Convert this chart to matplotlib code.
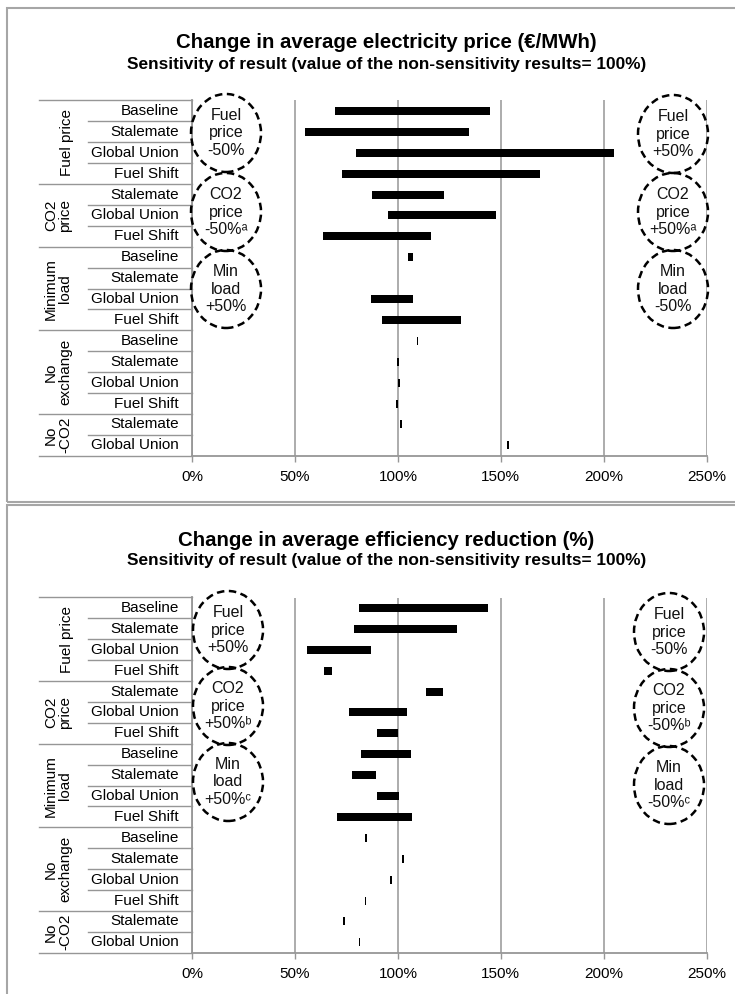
import numpy as np
import matplotlib
matplotlib.use('Agg')
import matplotlib.pyplot as plt
from matplotlib.patches import Ellipse, Rectangle
from matplotlib.transforms import blended_transform_factory

plt.rcParams['font.family'] = ['Liberation Sans', 'DejaVu Sans']

# row labels (top to bottom)
scenarios = ['Baseline', 'Stalemate', 'Global Union', 'Fuel Shift',
             'Stalemate', 'Global Union', 'Fuel Shift',
             'Baseline', 'Stalemate', 'Global Union', 'Fuel Shift',
             'Baseline', 'Stalemate', 'Global Union', 'Fuel Shift',
             'Stalemate', 'Global Union']
groups = ['Fuel price', 'CO2\nprice', 'Minimum\nload', 'No\nexchange', 'No\n-CO2']
group_sizes = [4, 3, 4, 4, 2]
ticks = [0, 50, 100, 150, 200, 250]

# electricity price: low / high end of each bar (%)
price_low = [69.7, 54.8, 79.9, 72.8, 87.6, 95.4, 63.5, 104.9, None, 86.9, 92.5,
             109.2, 99.5, 100.2, 99.2, 100.9, 153.2]
price_high = [144.8, 134.5, 205.1, 168.9, 122.6, 147.9, 116.0, 107.2, None, 107.2, 130.7,
              110.0, 100.5, 101.2, 100.2, 101.9, 154.2]

# efficiency reduction
eff_low = [81.1, 78.9, 55.8, 64.0, 113.5, 76.3, 90.0, 82.0, 77.7, 89.9, 70.4,
           84.2, 101.9, 96.4, 83.8, 73.5, 80.9]
eff_high = [144.0, 128.7, 87.1, 67.8, 122.1, 104.2, 100.0, 106.4, 89.2, 100.7, 106.9,
            85.1, 102.8, 97.3, 84.7, 74.4, 81.8]

price_left = ['Fuel\nprice\n-50%', 'CO2\nprice\n-50%ᵃ', 'Min\nload\n+50%']
price_right = ['Fuel\nprice\n+50%', 'CO2\nprice\n+50%ᵃ', 'Min\nload\n-50%']
eff_left = ['Fuel\nprice\n+50%', 'CO2\nprice\n+50%ᵇ', 'Min\nload\n+50%ᶜ']
eff_right = ['Fuel\nprice\n-50%', 'CO2\nprice\n-50%ᵇ', 'Min\nload\n-50%ᶜ']

W, H = 735, 994
GRAY = '#969696'
fig = plt.figure(figsize=(W / 100, H / 100), dpi=100)


def fx(px):
    return px / W


def fy(py):
    return 1 - py / H


def circle(cx, cy, txt):
    fig.add_artist(Ellipse((fx(cx), fy(cy)), 70 / W, 78 / H, transform=fig.transFigure,
                           fill=False, ec='black', lw=1.8, ls=(0, (3, 1.8))))
    fig.text(fx(cx), fy(cy), txt, ha='center', va='center', fontsize=11.5,
             linespacing=1.2, color='#111111')


def panel(top, title, subtitle, lows, highs, left_txt, right_txt, left_y, right_y, lx, rx):
    fig.add_artist(Rectangle((fx(7), fy(top + 494)), fx(760) - fx(7), 494 / H,
                             transform=fig.transFigure, fill=False, ec='#a6a6a6', lw=1.5))
    fig.text(fx(386.5), fy(top + 35), title, ha='center', va='center',
             fontsize=14.7, weight='bold')
    fig.text(fx(386.5), fy(top + 56), subtitle, ha='center', va='center',
             fontsize=12.4, weight='bold')

    r0, r1 = top + 92.5, top + 447.8
    x0, x1 = 192, 706.7
    ax = fig.add_axes([fx(x0), fy(r1), fx(x1) - fx(x0), (r1 - r0) / H])
    ax.set_xlim(0, 250)
    ax.set_ylim(16.5, -0.5)
    ax.set_xticks(ticks)
    ax.set_xticklabels([f'{t}%' for t in ticks], fontsize=11)
    ax.set_yticks([])
    ax.xaxis.grid(True, color=GRAY, lw=1.1)
    ax.set_axisbelow(True)
    for s in ['top', 'right']:
        ax.spines[s].set_visible(False)
    for s in ['left', 'bottom']:
        ax.spines[s].set_color(GRAY)
        ax.spines[s].set_linewidth(1.3)
    ax.tick_params(axis='x', length=4, width=1, color=GRAY, pad=6)

    for i, (lo, hi) in enumerate(zip(lows, highs)):
        if lo is None:
            continue
        ax.barh(i, hi - lo, left=lo, height=0.38, color='black')

    # label table on the left
    tr = blended_transform_factory(ax.transAxes, ax.transData)

    def xa(px):
        return (px - x0) / (x1 - x0)

    bounds = list(np.cumsum([0] + group_sizes) - 0.5)
    for b in np.arange(-0.5, 17, 1.0):
        start = 39 if b in bounds else 88
        ax.plot([xa(start), 0], [b, b], transform=tr, clip_on=False, color=GRAY, lw=1)
    for i, name in enumerate(scenarios):
        ax.text(xa(179), i, name, transform=tr, ha='right', va='center', fontsize=11)
    for g, name in enumerate(groups):
        mid = (bounds[g] + bounds[g + 1]) / 2
        gx = 67 if '\n' not in name else 58
        ax.text(xa(gx), mid, name, transform=tr, rotation=90, ha='center', va='center',
                multialignment='center', fontsize=11, linespacing=1.0)

    for t, cy in zip(left_txt, left_y):
        circle(lx, cy, t)
    for t, cy in zip(right_txt, right_y):
        circle(rx, cy, t)


sub = 'Sensitivity of result (value of the non-sensitivity results= 100%)'
panel(8, 'Change in average electricity price (€/MWh)', sub, price_low, price_high,
      price_left, price_right, [133, 212, 289], [134, 212, 289], 226, 673)
panel(505, 'Change in average efficiency reduction (%)', sub, eff_low, eff_high,
      eff_left, eff_right, [630, 706, 782], [632, 708, 785], 228, 669)

fig.savefig('out.png', dpi=100)
